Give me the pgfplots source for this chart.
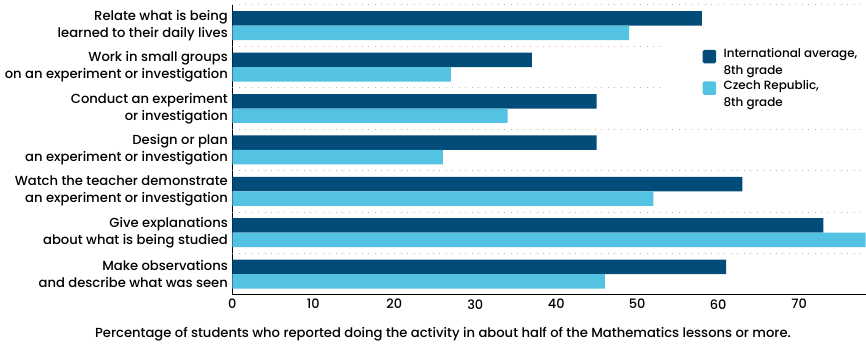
\documentclass[border=0pt]{standalone}
\usepackage{pgfplots}
\pgfplotsset{compat=1.18}
\usepackage{fontspec}
\setmainfont{Poppins}[UprightFont={* Medium}]
\definecolor{dark}{RGB}{2,76,122}
\definecolor{light}{RGB}{84,194,226}
\definecolor{gridc}{RGB}{185,185,185}
\begin{document}
\begin{tikzpicture}
\begin{axis}[
  scale only axis, width=633.5bp, height=290bp,
  xbar, bar width=0.35,
  ymin=-0.5, ymax=6.5, xmin=0, xmax=78.2,
  axis x line*=bottom, axis y line*=left,
  axis line style={-, black, line width=1pt},
  ytick={0,...,6},
  yticklabels={{Make observations\\and describe what was seen},
               {Give explanations\\about what is being studied},
               {Watch the teacher demonstrate\\an experiment or investigation},
               {Design or plan\\an experiment or investigation},
               {Conduct an experiment\\or investigation},
               {Work in small groups\\on an experiment or investigation},
               {Relate what is being\\learned to their daily lives}},
  yticklabel style={align=right, font=\fontsize{13.2}{17}\selectfont, xshift=-1bp},
  xtick={0,10,...,70},
  xticklabel style={font=\fontsize{13}{14}\selectfont, yshift=-1bp},
  /pgf/number format/assume math mode=true,
  major tick length=0,
  xlabel={Percentage of students who reported doing the activity in about half of the Mathematics lessons or more.},
  xlabel style={font=\fontsize{13.2}{14}\selectfont, xshift=-106bp, yshift=-11bp},
  legend style={at={(axis cs:57.7,5.55)}, anchor=north west, draw=none, fill=none,
    cells={align=left, anchor=west}, font=\fontsize{12}{17}\selectfont, row sep=0pt},
  legend image code/.code={\fill[rounded corners=1.5pt] (0pt,-1pt) rectangle (13.5pt,12.5pt); \path (19pt,0pt);},
]
\draw[gridc, line width=1pt, dash pattern=on 1pt off 5.5pt] (axis cs:0,6.5) -- (axis cs:78.2,6.5);
\draw[gridc, line width=1pt, dash pattern=on 1pt off 5.5pt] (axis cs:0,5.5) -- (axis cs:52.8,5.5);
\draw[gridc, line width=1pt, dash pattern=on 1pt off 5.5pt] (axis cs:0,4.5) -- (axis cs:52.8,4.5);
\draw[gridc, line width=1pt, dash pattern=on 1pt off 5.5pt] (axis cs:0,3.5) -- (axis cs:78.2,3.5);
\draw[gridc, line width=1pt, dash pattern=on 1pt off 5.5pt] (axis cs:0,2.5) -- (axis cs:78.2,2.5);
\draw[gridc, line width=1pt, dash pattern=on 1pt off 5.5pt] (axis cs:0,1.5) -- (axis cs:78.2,1.5);
\draw[gridc, line width=1pt, dash pattern=on 1pt off 5.5pt] (axis cs:0,0.5) -- (axis cs:78.2,0.5);
\addplot[fill=dark, draw=none, bar shift=0.175] coordinates {(61,0) (73,1) (63,2) (45,3) (45,4) (37,5) (58,6)};
\addlegendentry{International average,\\8th grade}
\addplot[fill=light, draw=none, bar shift=-0.175] coordinates {(46,0) (79,1) (52,2) (26,3) (34,4) (27,5) (49,6)};
\addlegendentry{Czech Republic,\\8th grade}
\end{axis}
\path ([yshift=5bp]current axis.north east);
\path ([xshift=-232.5bp,yshift=-48bp]current axis.south west);
\end{tikzpicture}
\end{document}
